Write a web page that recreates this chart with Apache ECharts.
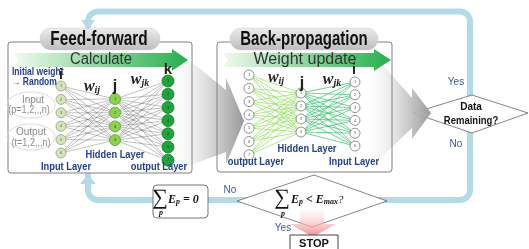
<!DOCTYPE html>
<html><head><meta charset="utf-8">
<script src="https://cdn.jsdelivr.net/npm/echarts@6/dist/echarts.min.js"></script>
<style>html,body{margin:0;padding:0;background:#fff}#c{width:529px;height:249px}</style>
</head><body><div id="c"></div>
<script>
// ---------------- data ----------------
const ffLayerNames = ['i', 'j', 'k'];
const ffLayerCounts = [6, 4, 7];
const ffLayerLabels = ['Input Layer', 'Hidden Layer', 'output Layer'];
const bpLayerNames = ['', 'j', 'i'];
const bpLayerCounts = [7, 4, 6];
const bpLayerLabels = ['output Layer', 'Hidden Layer', 'Input Layer'];
const stageTitles = ['Feed-forward', 'Back-propagation'];
const stageActions = ['Calculate', 'Weight update'];
const decisionTexts = ['Data', 'Remaining?'];
const answerLabels = ['Yes', 'No'];
const stopLabel = 'STOP';

// ---------------- layout ----------------
const ffLayout = [{x: 61, top: 86, step: 13.4}, {x: 115, top: 99, step: 13.7}, {x: 168, top: 81, step: 13.2}];
const bpLayout = [{x: 249, top: 75, step: 13.3}, {x: 301, top: 93, step: 13.0}, {x: 355, top: 82, step: 12.8}];

function layerNodes(counts, layout) {
  return counts.map((n, li) => Array.from({length: n}, (_, k) => [layout[li].x, layout[li].top + k * layout[li].step, k + 1]));
}
function layerEdges(a, b) {
  const out = [];
  a.forEach(p => b.forEach(q => out.push({coords: [[p[0], p[1]], [q[0], q[1]]]})));
  return out;
}
const ffNodes = layerNodes(ffLayerCounts, ffLayout);
const bpNodes = layerNodes(bpLayerCounts, bpLayout);

const SANS = 'Liberation Sans, Arial, sans-serif';
const SERIF = 'Liberation Serif, DejaVu Serif, serif';
const BLUE = '#24408e';
const ANS = '#3c5a96';
const LOOP = '#b3dbe7';

function T(x, y, text, o) {
  o = o || {};
  return {type: 'text', x: x, y: y, z: o.z || 20, scaleX: o.sx || 1,
    style: {text: text, fontSize: o.size || 10, fontWeight: o.bold ? 'bold' : 'normal',
      fontStyle: o.italic ? 'italic' : 'normal', fontFamily: o.font || SANS,
      fill: o.color || '#222', align: o.align || 'center', verticalAlign: 'middle', rich: o.rich}};
}
function W(x, y, sub) {
  return T(x, y, '{w|w}{s|' + sub + '}', {rich: {
    w: {fontSize: 16, fontStyle: 'italic', fontWeight: 'bold', fontFamily: SERIF, fill: '#222'},
    s: {fontSize: 10, fontStyle: 'italic', fontWeight: 'bold', fontFamily: SERIF, fill: '#222', verticalAlign: 'bottom', padding: [5, 0, 0, 0]}
  }});
}
function grayArrow(pts) {
  return {type: 'polygon', z: 3, shape: {points: pts}, style: {fill: {type: 'linear', x: 0, y: 0, x2: 1, y2: 0,
    colorStops: [{offset: 0, color: 'rgba(240,240,240,0)'}, {offset: 0.55, color: 'rgba(205,205,205,0.85)'}, {offset: 1, color: '#999999'}]}}};
}
function banner(x0, x1, tip) {
  return {type: 'polygon', z: 4, shape: {points: [[x0, 53], [x1, 53], [x1, 49], [tip, 60], [x1, 71], [x1, 67], [x0, 67], [x0 + 6, 60]]},
    style: {fill: {type: 'linear', x: 0, y: 0, x2: 1, y2: 0, colorStops: [{offset: 0, color: '#f2faee'}, {offset: 1, color: '#25b04c'}]}}};
}
function pill(x, w) {
  return {type: 'rect', z: 4, shape: {x: x, y: 28, width: w, height: 22, r: 11},
    style: {fill: {type: 'linear', x: 0, y: 0, x2: 0, y2: 1, colorStops: [{offset: 0, color: '#ececec'}, {offset: 1, color: '#bdbdbd'}]}, stroke: '#d0d0d0', lineWidth: 0.5}};
}

const graphics = [
  // feedback loop
  {type: 'rect', z: 1, shape: {x: 88, y: 11.5, width: 382, height: 188.5, r: 10}, style: {fill: 'none', stroke: LOOP, lineWidth: 6}},
  {type: 'polygon', z: 5, shape: {points: [[81, 20], [95, 20], [88, 30]]}, style: {fill: LOOP}},
  {type: 'polygon', z: 1, shape: {points: [[80, 184], [96, 184], [88, 174]]}, style: {fill: LOOP}},
  // boxes
  {type: 'rect', z: 2, shape: {x: 8, y: 42, width: 184, height: 131, r: 3}, style: {fill: '#fff'}},
  {type: 'rect', z: 2, shape: {x: 217, y: 42, width: 175, height: 130, r: 3}, style: {fill: '#fff'}},
  {type: 'rect', z: 4, shape: {x: 8, y: 42, width: 184, height: 131, r: 3}, style: {fill: 'none', stroke: '#808080', lineWidth: 1}},
  {type: 'rect', z: 4, shape: {x: 217, y: 42, width: 175, height: 130, r: 3}, style: {fill: 'none', stroke: '#808080', lineWidth: 1}},
  // gray transfer arrows
  grayArrow([[172, 46], [226, 90], [226, 78], [244, 121], [226, 164], [226, 152], [172, 172]]),
  grayArrow([[368, 48], [412, 98], [412, 88], [431, 113], [412, 139], [412, 128], [368, 170]]),
  // banners and titles
  banner(13, 172, 188), banner(222, 374, 391),
  pill(40, 120), pill(230, 148),
  T(99, 39.5, stageTitles[0], {size: 20, bold: true, sx: 0.77, color: '#111'}),
  T(304, 39.5, stageTitles[1], {size: 20, bold: true, sx: 0.75, color: '#111'}),
  T(101, 60, stageActions[0], {size: 16, sx: 0.93, color: '#333'}),
  T(305, 60, stageActions[1], {size: 16, color: '#333'}),
  // left notes
  T(12, 72, 'Initial weight', {size: 10, bold: true, color: BLUE, align: 'left', sx: 0.85}),
  T(12, 82.5, '\u2192 Random', {size: 10, bold: true, color: BLUE, align: 'left', sx: 0.85}),
  {type: 'ellipse', z: 4, shape: {cx: 31, cy: 105, rx: 24, ry: 13}, style: {fill: 'none', stroke: '#dadada', lineWidth: 1}},
  {type: 'ellipse', z: 4, shape: {cx: 31, cy: 137, rx: 24, ry: 13}, style: {fill: 'none', stroke: '#dadada', lineWidth: 1}},
  T(33, 100, 'Input', {size: 10, color: '#8a8a8a'}),
  T(29, 110, '(p=1,2,,,n)', {size: 10, color: '#8a8a8a', sx: 0.9}),
  T(31, 132, 'Output', {size: 10, color: '#8a8a8a'}),
  T(31, 143, '(t=1,2,,,n)', {size: 10, color: '#8a8a8a', sx: 0.9}),
  // layer letters and weights (feed-forward)
  T(ffLayout[0].x, 75, ffLayerNames[0], {size: 14, bold: true}),
  T(ffLayout[1].x, 87, ffLayerNames[1], {size: 16, bold: true}),
  T(ffLayout[2].x, 70, ffLayerNames[2], {size: 15, bold: true}),
  W(92, 87, 'ij'), W(140, 80, 'jk'),
  T(115, 155, ffLayerLabels[1], {size: 10, bold: true, color: BLUE, sx: 0.93}),
  T(66, 167.5, ffLayerLabels[0], {size: 10, bold: true, color: BLUE, sx: 0.93}),
  T(159, 167.5, ffLayerLabels[2], {size: 10, bold: true, color: BLUE, sx: 0.93}),
  // back-propagation labels
  T(bpLayout[1].x + 1, 84, bpLayerNames[1], {size: 16, bold: true}),
  T(bpLayout[2].x - 1, 70, bpLayerNames[2], {size: 14, bold: true}),
  W(276, 78, 'ij'), W(332, 80, 'jk'),
  T(307, 149.5, bpLayerLabels[1], {size: 10, bold: true, color: BLUE, sx: 0.93}),
  T(256, 162.5, bpLayerLabels[0], {size: 10, bold: true, color: BLUE, sx: 0.93}),
  T(354, 162.5, bpLayerLabels[2], {size: 10, bold: true, color: BLUE, sx: 0.93}),
  // data remaining decision
  {type: 'polygon', z: 2, shape: {points: [[413, 113], [472, 95], [528, 113], [472, 133]]}, style: {fill: '#fff', stroke: '#666', lineWidth: 0.8}},
  T(471, 107.5, decisionTexts[0], {size: 10, bold: true, color: '#111'}),
  T(471, 121, decisionTexts[1], {size: 10, bold: true, color: '#111', sx: 0.95}),
  T(456, 82, answerLabels[0], {size: 10, color: ANS}),
  T(456, 144, answerLabels[1], {size: 10, color: ANS}),
  // error reset box
  {type: 'rect', z: 2, shape: {x: 153, y: 185, width: 55, height: 33, r: 4}, style: {fill: '#fff', stroke: '#666', lineWidth: 0.9}},
  T(160, 198, '\u2211', {size: 22, font: SERIF, color: '#111'}),
  T(161, 213, 'p', {size: 8, bold: true, italic: true, font: SERIF, color: '#111'}),
  T(168, 200, '{e|E}{s|p}{e| = 0}', {align: 'left', rich: {
    e: {fontSize: 12, fontWeight: 'bold', fontStyle: 'italic', fontFamily: SERIF, fill: '#111'},
    s: {fontSize: 8, fontWeight: 'bold', fontStyle: 'italic', fontFamily: SERIF, fill: '#111', verticalAlign: 'bottom', padding: [4, 0, 0, 0]}}}),
  T(230, 190, answerLabels[1], {size: 10, color: ANS}),
  // error decision
  {type: 'polygon', z: 2, shape: {points: [[237, 201], [314, 175], [387, 201], [312, 227]]}, style: {fill: '#fff', stroke: '#666', lineWidth: 0.8}},
  {type: 'polygon', z: 3, shape: {points: [[300, 210], [324, 210], [324, 224], [336, 224], [313, 237], [290, 224], [300, 224]]},
    style: {fill: {type: 'linear', x: 0, y: 0, x2: 0, y2: 1, colorStops: [{offset: 0, color: 'rgba(255,225,225,0.2)'}, {offset: 1, color: '#f48585'}]}}},
  T(282, 198, '\u2211', {size: 22, font: SERIF, color: '#111'}),
  T(283, 214, 'p', {size: 8, bold: true, italic: true, font: SERIF, color: '#111'}),
  T(291, 200, '{e|E}{s|p}{e| < E}{s|max}{q|?}', {align: 'left', rich: {
    e: {fontSize: 12, fontWeight: 'bold', fontStyle: 'italic', fontFamily: SERIF, fill: '#111'},
    s: {fontSize: 8, fontWeight: 'bold', fontStyle: 'italic', fontFamily: SERIF, fill: '#111', verticalAlign: 'bottom', padding: [4, 0, 0, 0]},
    q: {fontSize: 11, fontStyle: 'italic', fontFamily: SERIF, fill: '#111'}}}),
  T(283, 228, answerLabels[0], {size: 10, color: ANS}),
  // stop
  {type: 'rect', z: 4, shape: {x: 290, y: 235, width: 48, height: 20}, style: {fill: '#fff', stroke: '#444', lineWidth: 1}},
  T(314, 243.5, stopLabel, {size: 11, bold: true, color: '#111'})
];

function nodeSeries(data, size, fill, border, labelColor) {
  return {type: 'scatter', z: 7, data: data, symbolSize: size, silent: true,
    itemStyle: {color: fill, borderColor: border, borderWidth: 0.8, opacity: 1},
    label: {show: true, position: 'inside', formatter: p => p.value[2], fontSize: 4, color: labelColor}};
}
function edgeSeries(edges, color, width, opacity) {
  return {type: 'lines', coordinateSystem: 'cartesian2d', z: 6, silent: true, data: edges,
    lineStyle: {color: color, width: width, opacity: opacity}};
}

const series = [
  edgeSeries(layerEdges(ffNodes[0], ffNodes[1]), '#4a4a4a', 0.45, 0.75),
  edgeSeries(layerEdges(ffNodes[1], ffNodes[2]), '#4a4a4a', 0.45, 0.75),
  edgeSeries(layerEdges(bpNodes[0], bpNodes[1]), '#93e060', 0.8, 0.9),
  edgeSeries(layerEdges(bpNodes[1], bpNodes[2]), '#35c36c', 0.8, 0.9),
  nodeSeries(ffNodes[0], 10, '#d3e8b0', '#9a9a9a', '#555'),
  nodeSeries(ffNodes[1], 11, '#8ad34a', '#5d9e33', '#333'),
  nodeSeries(ffNodes[2], 12, '#1ea53a', '#137a28', '#0b3d14'),
  nodeSeries(bpNodes[0], 10, '#ffffff', '#777', '#555'),
  nodeSeries(bpNodes[1], 10, '#ffffff', '#777', '#555'),
  nodeSeries(bpNodes[2], 10, '#ffffff', '#777', '#555')
];

const chart = echarts.init(document.getElementById('c'), null, {renderer: 'canvas'});
chart.setOption({
  animation: false,
  backgroundColor: '#fff',
  grid: {left: 0, right: 0, top: 0, bottom: 0},
  xAxis: {type: 'value', min: 0, max: 529, show: false},
  yAxis: {type: 'value', min: 0, max: 249, inverse: true, show: false},
  graphic: {elements: graphics},
  series: series
});
</script></body></html>
